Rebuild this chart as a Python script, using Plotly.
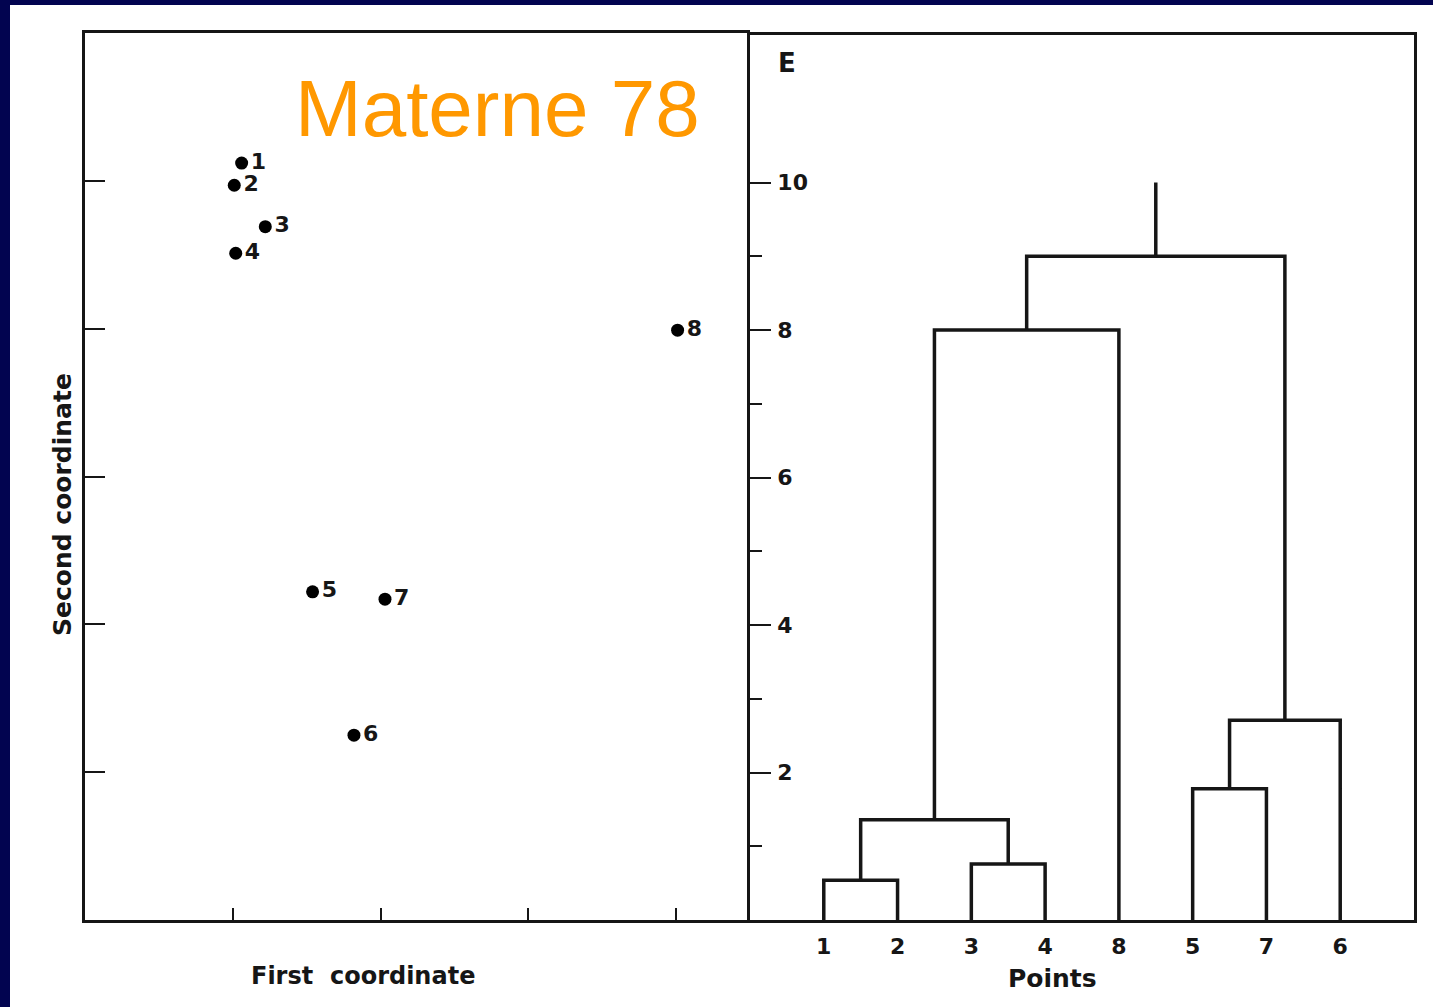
import plotly.graph_objects as go

# Point configuration: coordinates in the first two principal coordinates
point_labels = ["1", "2", "3", "4", "5", "6", "7", "8"]
first_coord = [1.06, 1.01, 1.22, 1.02, 1.54, 1.82, 2.03, 4.01]
second_coord = [5.12, 4.97, 4.69, 4.51, 2.22, 1.25, 2.17, 3.99]

# Dendrogram: leaf order along the axis and the merge heights E
leaf_order = ["1", "2", "3", "4", "8", "5", "7", "6"]
merges = [
    ("1", "2", 0.54),
    ("3", "4", 0.76),
    ("12", "34", 1.36),
    ("1234", "8", 8.0),
    ("5", "7", 1.78),
    ("57", "6", 2.71),
    ("12348", "576", 9.0),
]
root_top = 10.0

e_ticks = [2, 4, 6, 8, 10]
e_minor = [1, 3, 5, 7, 9]

INK = "#161616"
FONT = "DejaVu Sans"
W, H = 1433, 1007
ML, MR, MT, MB = 85, 19, 33, 87
PW, PH = W - ML - MR, H - MT - MB


def px_x(p):
    return (p - ML) / PW


def px_y(p):
    return (H - MB - p) / PH


# Build the U-shaped links of the dendrogram
pos = {name: i + 1 for i, name in enumerate(leaf_order)}
hgt = {name: 0.0 for name in leaf_order}
dx, dy = [], []
for a, b, h in merges:
    xa, xb = pos[a], pos[b]
    dx += [xa, xa, xb, xb, None]
    dy += [hgt[a], h, h, hgt[b], None]
    pos[a + b] = (xa + xb) / 2
    hgt[a + b] = h
root = merges[-1][0] + merges[-1][1]
dx += [pos[root], pos[root]]
dy += [hgt[root], root_top]

fig = go.Figure()

fig.add_trace(go.Scatter(
    x=first_coord, y=second_coord, mode="markers+text",
    text=point_labels, textposition="middle right",
    textfont=dict(family=FONT, size=22, color=INK, weight="bold"),
    marker=dict(size=13, color="black"),
    xaxis="x", yaxis="y", showlegend=False, hoverinfo="skip",
))

fig.add_trace(go.Scatter(
    x=dx, y=dy, mode="lines",
    line=dict(color=INK, width=3.5),
    xaxis="x2", yaxis="y2", showlegend=False, hoverinfo="skip",
))

split = (750 - ML) / PW
axis_common = dict(showline=True, linecolor=INK, linewidth=2.5,
                   showgrid=False, zeroline=False, fixedrange=True)


def label(text, x, y, size, **kw):
    return dict(text=text, xref="paper", yref="paper", x=px_x(x), y=px_y(y),
                xanchor="center", yanchor="middle", showarrow=False,
                font=dict(family=FONT, size=size, color=INK, weight="bold"), **kw)


fig.update_layout(
    width=W, height=H,
    margin=dict(l=ML, r=MR, t=MT, b=MB),
    paper_bgcolor="white", plot_bgcolor="white",
    xaxis=dict(domain=[0, split], range=[0, 4.5], tickvals=[1, 2, 3, 4],
               ticks="inside", ticklen=12, tickwidth=2, tickcolor=INK,
               showticklabels=False, mirror=True, **axis_common),
    # the divider between the panels is drawn by the dendrogram's axis
    yaxis=dict(domain=[0, 1], range=[0, 6], tickvals=[1, 2, 3, 4, 5],
               ticks="inside", ticklen=20, tickwidth=2, tickcolor=INK,
               showticklabels=False, mirror=False, **axis_common),
    xaxis2=dict(domain=[split, 1], range=[0, 9], anchor="y2",
                tickvals=list(range(1, len(leaf_order) + 1)), ticktext=leaf_order,
                ticks="", ticklabelstandoff=5,
                tickfont=dict(family=FONT, size=22, color=INK, weight="bold"),
                mirror=True, **axis_common),
    yaxis2=dict(domain=[0, (920 - 35) / PH], range=[0, 12], anchor="x2",
                tickvals=e_ticks, ticktext=[str(v) for v in e_ticks],
                ticks="inside", ticklen=21, tickwidth=2, tickcolor=INK,
                ticklabelposition="inside", ticklabelstandoff=8,
                tickfont=dict(family=FONT, size=22, color=INK, weight="bold"),
                minor=dict(tickvals=e_minor, ticks="inside", ticklen=12,
                           tickwidth=2, tickcolor=INK),
                mirror=True, **axis_common),
    shapes=[
        dict(type="rect", xref="paper", yref="paper", layer="above",
             x0=px_x(0), x1=px_x(10), y0=px_y(H + 5), y1=px_y(-5),
             fillcolor="#020450", line_width=0),
        dict(type="rect", xref="paper", yref="paper", layer="above",
             x0=px_x(0), x1=px_x(W + 5), y0=px_y(5), y1=px_y(-5),
             fillcolor="#020450", line_width=0),
    ],
    annotations=[
        dict(text="Materne 78", xref="paper", yref="paper",
             x=px_x(497), y=px_y(108), xanchor="center", yanchor="middle",
             showarrow=False,
             font=dict(family="Liberation Sans", size=80, color="#FF9800")),
        dict(text="E", xref="x2", yref="y2", x=0.5, y=11.62,
             xanchor="center", yanchor="middle", showarrow=False,
             font=dict(family=FONT, size=26, color=INK, weight="bold")),
        label("First  coordinate", 363, 976, 24),
        label("Points", 1052, 978, 25),
        label("Second coordinate", 62, 505, 25, textangle=-90),
    ],
)

fig.write_html("out.html")
